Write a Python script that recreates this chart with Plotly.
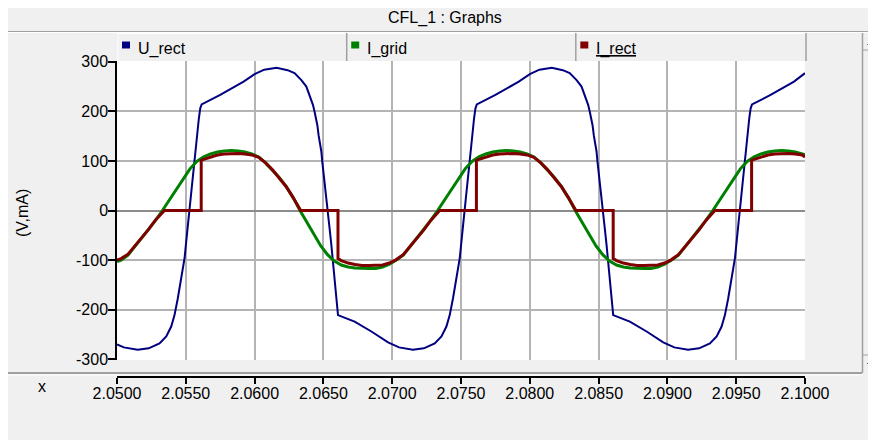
import plotly.graph_objects as go

# ---------------- data ----------------
u_rect_t = [
    2.0500, 2.0505, 2.0515, 2.0523, 2.05309, 2.05358, 2.05394, 2.05418, 2.05442, 2.0546,
    2.05479, 2.05491, 2.05508, 2.05522, 2.05535, 2.05551, 2.0557, 2.0558, 2.05595, 2.05605,
    2.05615, 2.0575, 2.0592, 2.0600, 2.0607, 2.0616, 2.0624, 2.0629, 2.0634, 2.06376,
    2.0640, 2.06424, 2.06436, 2.06456, 2.06465, 2.06485, 2.06492, 2.06509, 2.06521, 2.06533,
    2.06545, 2.06558, 2.06565, 2.06577, 2.06587, 2.06596, 2.06606, 2.06727, 2.06849, 2.0697,
    2.0705, 2.0715, 2.0723,
    2.07309, 2.07358, 2.07394, 2.07418, 2.07442, 2.0746, 2.07479, 2.07491, 2.07508, 2.07522,
    2.07535, 2.07551, 2.0757, 2.0758, 2.07595, 2.07605, 2.07615, 2.0775, 2.0792, 2.0800,
    2.0807, 2.0816, 2.0824, 2.0829, 2.0834, 2.08376, 2.0840, 2.08424, 2.08436, 2.08456,
    2.08465, 2.08485, 2.08492, 2.08509, 2.08521, 2.08533, 2.08545, 2.08558, 2.08565, 2.08577,
    2.08587, 2.08596, 2.08606, 2.08727, 2.08849, 2.0897, 2.0905, 2.0915, 2.0923,
    2.09309, 2.09358, 2.09394, 2.09418, 2.09442, 2.0946, 2.09479, 2.09491, 2.09508, 2.09522,
    2.09535, 2.09551, 2.0957, 2.0958, 2.09595, 2.09605, 2.09615, 2.0975, 2.0992, 2.1000,
]
u_rect_v = [
    -270, -276, -281, -278, -268, -254, -234, -211, -177, -150,
    -117, -96, -49, -9, 25, 65, 119, 146, 186, 206,
    214, 233, 260, 275, 284, 288, 283, 277, 263, 250,
    233, 213, 199, 172, 152, 119, 98, 58, 31, -2,
    -36, -70, -90, -123, -157, -184, -211, -224, -244, -266,
    -276, -281, -278,
    -268, -254, -234, -211, -177, -150, -117, -96, -49, -9,
    25, 65, 119, 146, 186, 206, 214, 233, 260, 275,
    284, 288, 283, 277, 263, 250, 233, 213, 199, 172,
    152, 119, 98, 58, 31, -2, -36, -70, -90, -123,
    -157, -184, -211, -224, -244, -266, -276, -281, -278,
    -268, -254, -234, -211, -177, -150, -117, -96, -49, -9,
    25, 65, 119, 146, 186, 206, 214, 233, 260, 277,
]

i_grid_t = [
    2.0500,
    2.0503, 2.0508, 2.0513, 2.0518, 2.0523, 2.0528, 2.0533, 2.0538, 2.0543, 2.0548,
    2.0553, 2.0558, 2.0563, 2.0568, 2.0573, 2.0578, 2.0583, 2.0588, 2.0593, 2.0598,
    2.0603, 2.0608, 2.0613, 2.0618, 2.0623, 2.0628, 2.0633, 2.0638, 2.0643, 2.0648,
    2.0653, 2.0658, 2.0663, 2.0668, 2.0673, 2.0678, 2.0683, 2.0688, 2.0693, 2.0698,
    2.0703, 2.0708, 2.0713, 2.0718, 2.0723, 2.0728, 2.0733, 2.0738, 2.0743, 2.0748,
    2.0753, 2.0758, 2.0763, 2.0768, 2.0773, 2.0778, 2.0783, 2.0788, 2.0793, 2.0798,
    2.0803, 2.0808, 2.0813, 2.0818, 2.0823, 2.0828, 2.0833, 2.0838, 2.0843, 2.0848,
    2.0853, 2.0858, 2.0863, 2.0868, 2.0873, 2.0878, 2.0883, 2.0888, 2.0893, 2.0898,
    2.0903, 2.0908, 2.0913, 2.0918, 2.0923, 2.0928, 2.0933, 2.0938, 2.0943, 2.0948,
    2.0953, 2.0958, 2.0963, 2.0968, 2.0973, 2.0978, 2.0983, 2.0988, 2.0993, 2.0998,
    2.1000,
]
i_grid_v = [
    -103,
    -100, -90, -73, -56, -39, -20, 0, 21, 42, 64,
    84, 99, 108, 114, 118, 120, 121, 120, 118, 114,
    108, 96, 82, 66, 48, 26, 0, -24, -49, -71,
    -89, -102, -110, -114, -116, -117, -117, -117, -114, -108,
    -100, -90, -73, -56, -39, -20, 0, 21, 42, 64,
    84, 99, 108, 114, 118, 120, 121, 120, 118, 114,
    108, 96, 82, 66, 48, 26, 0, -24, -49, -71,
    -89, -102, -110, -114, -116, -117, -117, -117, -114, -108,
    -100, -90, -73, -56, -39, -20, 0, 21, 42, 64,
    84, 99, 108, 114, 118, 120, 121, 120, 118, 114,
    112,
]

i_rect_t = [
    2.0500, 2.0503, 2.0508, 2.0513, 2.0518, 2.0523, 2.0528, 2.05345, 2.05612, 2.05612,
    2.0563, 2.0568, 2.0573, 2.0578, 2.0583, 2.0588, 2.0593, 2.0598, 2.0603, 2.0608,
    2.0613, 2.0618, 2.0623, 2.0628, 2.06335, 2.06606, 2.06606, 2.0663, 2.0668, 2.0673,
    2.0678, 2.0683, 2.0688, 2.0693, 2.0698, 2.0703, 2.0708, 2.0713, 2.0718, 2.0723,
    2.0728, 2.07345, 2.07612, 2.07612,
    2.0763, 2.0768, 2.0773, 2.0778, 2.0783, 2.0788, 2.0793, 2.0798, 2.0803, 2.0808,
    2.0813, 2.0818, 2.0823, 2.0828, 2.08335, 2.08606, 2.08606, 2.0863, 2.0868, 2.0873,
    2.0878, 2.0883, 2.0888, 2.0893, 2.0898, 2.0903, 2.0908, 2.0913, 2.0918, 2.0923,
    2.0928, 2.09345, 2.09612, 2.09612,
    2.0963, 2.0968, 2.0973, 2.0978, 2.0983, 2.0988, 2.0993, 2.0998, 2.1000,
]
i_rect_v = [
    -100, -97, -88, -72, -55, -38, -19, 0, 0, 101,
    103, 108, 112, 114, 115, 115, 114, 112, 107, 96,
    82, 66, 48, 26, 0, 0, -97, -101, -106, -109,
    -111, -111, -111, -110, -106, -99, -89, -73, -56, -39,
    -20, 0, 0, 101,
    103, 108, 112, 114, 115, 115, 114, 112, 107, 96,
    82, 66, 48, 26, 0, 0, -97, -101, -106, -109,
    -111, -111, -111, -110, -106, -99, -89, -73, -56, -39,
    -20, 0, 0, 101,
    103, 108, 112, 114, 115, 115, 114, 112, 108,
]

series_names = ["U_rect", "I_grid", "I_rect"]
series_colors = ["#000080", "#008000", "#800000"]
y_ticks = [-300, -200, -100, 0, 100, 200, 300]
y_tick_labels = ["-300", "-200", "-100", "0", "100", "200", "300"]
x_ticks = [2.05, 2.055, 2.06, 2.065, 2.07, 2.075, 2.08, 2.085, 2.09, 2.095, 2.10]
x_tick_labels = ["2.0500", "2.0550", "2.0600", "2.0650", "2.0700", "2.0750",
                 "2.0800", "2.0850", "2.0900", "2.0950", "2.1000"]

# ---------------- layout geometry ----------------
# The page body has an 8px margin, so the figure is drawn 8px smaller and
# every position below is given in window pixels, then shifted by OFF.
OFF = 8
W, H = 876 - OFF, 440 - OFF
L, R, T, B = 117 - OFF, 71, 61 - OFF, 63
PW = W - L - R
PH = H - T - B


def px(x):
    return (x - OFF - L) / PW


def py(y):
    return (H - B - (y - OFF)) / PH


FONT = "Liberation Sans, Arial, sans-serif"
GRID = "#b4b4b4"
EDGE = "#a0a0a0"

fig = go.Figure()
fig.add_trace(go.Scatter(x=u_rect_t, y=u_rect_v, mode="lines", name=series_names[0],
                         line=dict(color=series_colors[0], width=2), showlegend=False))
fig.add_trace(go.Scatter(x=i_grid_t, y=i_grid_v, mode="lines", name=series_names[1],
                         line=dict(color=series_colors[1], width=3), showlegend=False))
fig.add_trace(go.Scatter(x=i_rect_t, y=i_rect_v, mode="lines", name=series_names[2],
                         line=dict(color=series_colors[2], width=3), showlegend=False))

shapes = []


def line(x0, y0, x1, y1, color=EDGE, width=1, layer="above"):
    shapes.append(dict(type="line", xref="paper", yref="paper",
                       x0=px(x0), y0=py(y0), x1=px(x1), y1=py(y1),
                       line=dict(color=color, width=width), layer=layer))


def rect(x0, y0, x1, y1, fill, layer="above"):
    shapes.append(dict(type="rect", xref="paper", yref="paper",
                       x0=px(x0), y0=py(y0), x1=px(x1), y1=py(y1),
                       fillcolor=fill, line=dict(width=0), layer=layer))


# title separator
line(8, 31.5, 876, 31.5, EDGE, 1)
line(8, 32.5, 876, 32.5, "white", 1)

# legend header cells
cell_edges = [117.5, 346.7, 575.8, 806]
line(117.5, 33.5, 806, 33.5, "white", 1)
for i, xe in enumerate(cell_edges):
    if i == 0:
        line(xe + 0.5, 33, xe + 0.5, 61, "white", 1)
    else:
        line(xe, 33, xe, 61, EDGE, 1.5)

# legend squares
for i in range(3):
    x0 = cell_edges[i] + 4.5
    rect(x0, 41.5, x0 + 8, 48.5, series_colors[i])

# bottom separator and scrollbar
line(8, 373, 862, 373, EDGE, 2)
line(8, 375, 862, 375, "white", 1)
line(862.5, 33, 862.5, 373, EDGE, 1.5)
line(862, 50, 876, 50, EDGE, 1)
line(862, 355, 876, 355, EDGE, 1)
shapes.append(dict(type="path", xref="paper", yref="paper",
                   path=f"M {px(867)},{py(45)} L {px(875)},{py(45)} L {px(871)},{py(40.5)} Z",
                   fillcolor="black", line=dict(width=0)))
shapes.append(dict(type="path", xref="paper", yref="paper",
                   path=f"M {px(867)},{py(363)} L {px(875)},{py(363)} L {px(871)},{py(367.5)} Z",
                   fillcolor="black", line=dict(width=0)))

annotations = [
    dict(text="CFL_1 : Graphs", x=px(445), y=py(18), xref="paper", yref="paper",
         showarrow=False, xanchor="center", yanchor="middle", font=dict(size=16)),
    dict(text="(V,mA)", x=px(22), y=py(213), xref="paper", yref="paper", textangle=-90,
         showarrow=False, xanchor="center", yanchor="middle", font=dict(size=16)),
    dict(text="x", x=px(42), y=py(386), xref="paper", yref="paper",
         showarrow=False, xanchor="center", yanchor="middle", font=dict(size=16)),
]
legend_labels = ["U_rect", "I_grid", "<u>I_rect</u>"]
for i in range(3):
    annotations.append(dict(text=legend_labels[i], x=px(cell_edges[i] + 18), y=py(48.5),
                            xref="paper", yref="paper", showarrow=False,
                            xanchor="left", yanchor="middle", font=dict(size=16)))

fig.update_layout(
    width=W, height=H,
    margin=dict(l=L, r=R, t=T, b=B, pad=0),
    paper_bgcolor="#f0f0f0", plot_bgcolor="white",
    font=dict(family=FONT, size=16, color="black"),
    showlegend=False,
    xaxis=dict(range=[2.05, 2.10], anchor="free", position=0,
               tickmode="array", tickvals=x_ticks, ticktext=x_tick_labels,
               showgrid=True, gridcolor=GRID, gridwidth=2, zeroline=False,
               showline=True, linecolor="black", linewidth=1.5,
               ticks="outside", ticklen=6, tickwidth=1.5, tickcolor="black",
               ticklabelstandoff=-4, tickfont=dict(size=16)),
    yaxis=dict(domain=[py(360), 1], range=[-301.5, 301.5],
               tickmode="array", tickvals=y_ticks, ticktext=y_tick_labels,
               showgrid=True, gridcolor=GRID, gridwidth=2,
               zeroline=True, zerolinecolor="#8c8c8c", zerolinewidth=2,
               showline=True, linecolor="black", linewidth=1.5,
               ticks="outside", ticklen=7, tickwidth=1.5, tickcolor="black",
               ticklabelstandoff=-3, tickfont=dict(size=16)),
    shapes=shapes, annotations=annotations,
)

fig.write_html("out.html")
